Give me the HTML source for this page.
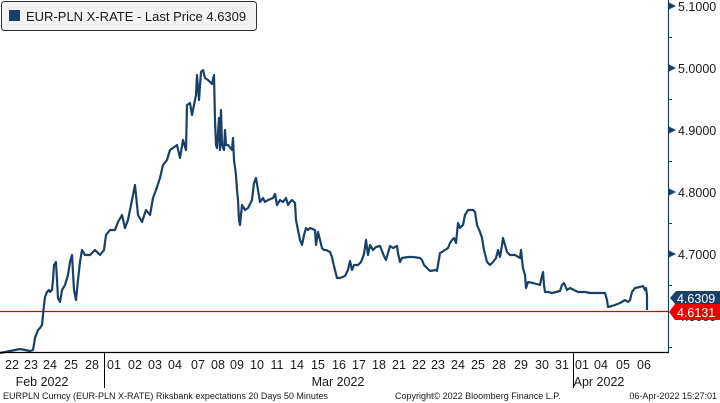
<!DOCTYPE html>
<html><head><meta charset="utf-8"><style>
body{margin:0;background:#fff;}
svg{display:block;font-family:"Liberation Sans","DejaVu Sans",sans-serif;}
</style></head><body>
<svg width="720" height="403" viewBox="0 0 720 403" xmlns="http://www.w3.org/2000/svg">
<rect width="720" height="403" fill="#fff"/>
<!-- legend -->
<rect x="1.5" y="1.5" width="255" height="29" rx="3" fill="#f3f3f3" stroke="#333" stroke-width="1"/>
<rect x="9" y="10" width="11" height="11" fill="#1b4068"/>
<text x="26" y="21" font-size="13" fill="#1a1a1a">EUR-PLN X-RATE - Last Price 4.6309</text>
<!-- red line -->
<line x1="0" y1="311.5" x2="668" y2="311.5" stroke="#d40000" stroke-width="1.2"/>
<!-- series -->
<polyline fill="none" stroke="#1b4068" stroke-width="2.2" stroke-linejoin="round" points="0,353 10,351 15,350 20,349 25,350 30,351 33,350 35,338 38,330 40,328 42,325 43,315 44,305 45,297 47,292 49,290 50,292 52,290 53,280 54,265 56,262 58,298 60,302 62,290 65,285 68,275 70,262 72,255 74,290 76,300 78,280 80,262 82,250 85,255 90,255 95,250 100,255 104,250 106,235 110,230 115,230 118,222 122,215 125,228 128,220 132,200 135,185 138,215 142,222 146,210 150,215 153,198 156,190 160,178 163,165 167,160 170,150 173,148 177,145 180,158 183,140 186,150 187,105 190,103 192,115 194,105 196,95 197,75 199,100 201,72 203,70 205,78 208,80 212,84 214,75 215,120 216,145 217,148 219,118 220,150 221,110 222,145 224,150 225,130 226,145 228,145 232,150 233,138 234,160 236,175 237,190 238,200 239,220 240,225 242,205 245,210 248,208 252,200 254,183 256,178 258,190 260,202 263,198 265,202 268,200 273,198 275,194 277,205 280,200 283,202 286,198 288,205 290,202 292,200 295,203 296,220 298,230 300,240 302,245 304,235 306,228 308,230 310,228 315,230 316,245 318,232 320,240 322,248 324,250 326,250 330,252 332,257 333,262 335,270 337,278 340,278 345,276 348,270 350,261 352,270 354,265 358,265 361,262 364,254 366,240 368,255 370,245 373,250 376,247 380,246 384,256 386,260 390,246 393,248 397,246 398,253 400,262 402,258 408,257 413,257 420,258 422,260 424,265 427,268 430,271 436,270 437,271 440,253 442,252 445,250 448,248 450,243 452,240 454,238 456,243 458,223 460,228 463,225 465,215 468,210 470,210 473,210 475,212 477,225 480,232 482,238 484,250 487,262 490,265 493,262 496,258 498,250 500,257 502,245 503,238 505,245 507,252 510,255 515,255 520,258 521,250 522,260 523,268 525,275 526,288 528,282 533,283 540,285 541,280 543,272 544,285 545,292 548,292 552,293 560,291 562,285 564,283 567,290 570,288 578,292 585,292 590,293 597,293 605,293 607,300 608,307 612,306 615,305 620,303 625,300 628,302 630,300 632,292 635,288 640,287 643,286 645,290 646,288 647,295 647,310"/>
<!-- right axis -->
<line x1="668.5" y1="0" x2="668.5" y2="352" stroke="#1b4068" stroke-width="1.2"/>
<g fill="#1b4068">
<polygon points="668,2 676,6 668,10"/><polygon points="668,64 676,68 668,72"/>
<polygon points="668,126 676,130 668,134"/><polygon points="668,188 676,192 668,196"/>
<polygon points="668,250 676,254 668,258"/>
</g>
<g stroke="#1b4068" stroke-width="1">
<line x1="668" y1="37.5" x2="672" y2="37.5"/><line x1="668" y1="99.5" x2="672" y2="99.5"/>
<line x1="668" y1="161.5" x2="672" y2="161.5"/><line x1="668" y1="223.5" x2="672" y2="223.5"/>
<line x1="668" y1="285.5" x2="672" y2="285.5"/><line x1="668" y1="347.5" x2="672" y2="347.5"/>
</g>
<g font-size="12.5" fill="#1a1a1a">
<text x="678" y="11">5.1000</text><text x="678" y="73">5.0000</text>
<text x="678" y="135">4.9000</text><text x="678" y="197">4.8000</text>
<text x="678" y="259">4.7000</text><text x="678" y="321">4.6000</text>
</g>
<!-- value tags -->
<polygon points="670,298 676,291 720,291 720,305 676,305" fill="#1b4068"/>
<text x="677" y="303" font-size="12.5" fill="#fff">4.6309</text>
<polygon points="669,312 675,304 720,304 720,320 675,320" fill="#ee0000"/>
<text x="677" y="317" font-size="12.5" fill="#fff">4.6131</text>
<!-- x axis -->
<line x1="0" y1="352.5" x2="669" y2="352.5" stroke="#000" stroke-width="1.2"/>
<line x1="104.5" y1="352" x2="104.5" y2="388" stroke="#000"/>
<line x1="573.5" y1="352" x2="573.5" y2="388" stroke="#000"/>
<g font-size="12.5" fill="#1a1a1a" text-anchor="middle">
<text x="12" y="369">22</text><text x="31" y="369">23</text><text x="50" y="369">24</text><text x="71" y="369">25</text><text x="92" y="369">28</text>
<text x="114" y="369">01</text><text x="135" y="369">02</text><text x="155" y="369">03</text><text x="175" y="369">04</text><text x="198" y="369">07</text>
<text x="218" y="369">08</text><text x="237" y="369">09</text><text x="257" y="369">10</text><text x="277" y="369">11</text><text x="297" y="369">14</text>
<text x="318" y="369">15</text><text x="339" y="369">16</text><text x="359" y="369">17</text><text x="379" y="369">18</text><text x="399" y="369">21</text>
<text x="419" y="369">22</text><text x="438" y="369">23</text><text x="458" y="369">24</text><text x="478" y="369">25</text><text x="499" y="369">28</text>
<text x="521" y="369">29</text><text x="542" y="369">30</text><text x="562" y="369">31</text>
<text x="582" y="369">01</text><text x="601" y="369">04</text><text x="623" y="369">05</text><text x="644" y="369">06</text>
<text x="42" y="386">Feb 2022</text><text x="338" y="386">Mar 2022</text><text x="599" y="386">Apr 2022</text>
</g>
<g font-size="9" fill="#1a1a1a">
<text x="3" y="399">EURPLN Curncy (EUR-PLN X-RATE) Riksbank expectations 20 Days 50 Minutes</text>
<text x="395" y="399">Copyright© 2022 Bloomberg Finance L.P.</text>
<text x="717" y="399" text-anchor="end">06-Apr-2022 15:27:01</text>
</g>
</svg>
</body></html>
